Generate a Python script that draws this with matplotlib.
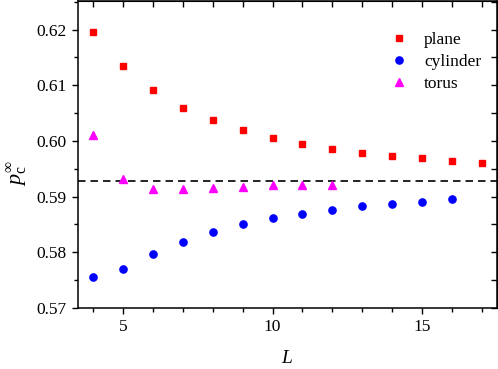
import matplotlib
matplotlib.use("Agg")
import matplotlib.pyplot as plt
from matplotlib.ticker import MultipleLocator

plt.rcParams['font.family'] = ['Liberation Serif', 'DejaVu Serif']
plt.rcParams['mathtext.fontset'] = 'custom'
plt.rcParams['mathtext.rm'] = 'Liberation Serif'
plt.rcParams['mathtext.it'] = 'Liberation Serif:italic'
plt.rcParams['mathtext.cal'] = 'Liberation Serif'

L_plane = [4, 5, 6, 7, 8, 9, 10, 11, 12, 13, 14, 15, 16, 17]
p_plane = [0.6195, 0.6134, 0.6092, 0.6060, 0.6037, 0.6020, 0.6006, 0.5995,
           0.5986, 0.5979, 0.5973, 0.5969, 0.5964, 0.5961]
L_cyl = [4, 5, 6, 7, 8, 9, 10, 11, 12, 13, 14, 15, 16]
p_cyl = [0.5756, 0.5769, 0.5797, 0.5819, 0.5836, 0.5850, 0.5861, 0.5869,
         0.5876, 0.5883, 0.5887, 0.5891, 0.5895]
L_torus = [4, 5, 6, 7, 8, 9, 10, 11, 12]
p_torus = [0.6011, 0.5931, 0.5913, 0.5914, 0.5916, 0.5918, 0.5920, 0.5921, 0.5921]
p_inf = 0.592746

fig = plt.figure(figsize=(4.98, 3.69), dpi=100)
ax = fig.add_axes([0.1566, 0.166, 0.998 - 0.1566, 0.998 - 0.166])

ax.axhline(p_inf, color='black', ls=(0, (4.5, 3)), lw=1.2, zorder=1)
ax.plot(L_plane, p_plane, ls='none', marker='s', ms=4.8, color='#ff0000', label='plane')
ax.plot(L_cyl, p_cyl, ls='none', marker='o', ms=5.2, color='#0000ff', label='cylinder')
ax.plot(L_torus, p_torus, ls='none', marker='^', ms=5.8, color='#ff00ff', label='torus')

ax.set_xlim(3.5, 17.5)
ax.set_ylim(0.57, 0.6252)
ax.xaxis.set_major_locator(MultipleLocator(5))
ax.xaxis.set_minor_locator(MultipleLocator(1))
ax.yaxis.set_major_locator(MultipleLocator(0.01))
ax.yaxis.set_minor_locator(MultipleLocator(0.005))
ax.yaxis.set_major_formatter(matplotlib.ticker.FormatStrFormatter('%.2f'))

for s in ax.spines.values():
    s.set_linewidth(1.1)
ax.tick_params(which='both', direction='out', labelsize=12.5, width=1.0)
ax.tick_params(which='major', length=4.5)
ax.tick_params(which='minor', length=3)

secx = ax.secondary_xaxis('top')
secx.xaxis.set_major_locator(MultipleLocator(5))
secx.xaxis.set_minor_locator(MultipleLocator(1))
secx.tick_params(which='both', direction='in', labeltop=False, width=1.0)
secx.tick_params(which='major', length=4.5)
secx.tick_params(which='minor', length=4.5)
secy = ax.secondary_yaxis('right')
secy.yaxis.set_major_locator(MultipleLocator(0.01))
secy.yaxis.set_minor_locator(MultipleLocator(0.005))
secy.tick_params(which='both', direction='in', labelright=False, width=1.0)
secy.tick_params(which='major', length=4.5)
secy.tick_params(which='minor', length=4.5)

ax.set_xlabel(r'$L$', fontsize=14, labelpad=11)
ax.set_ylabel(r'$p_{\mathrm{c}}^{\infty}$', fontsize=16)
ax.yaxis.set_label_coords(-0.115, 0.44)

ax.legend(loc='upper right', frameon=False, fontsize=12.5, handletextpad=0.84,
          labelspacing=0.32, borderaxespad=0.52, handlelength=1.2,
          bbox_to_anchor=(1.0, 0.95))

fig.savefig('out.png', dpi=100)
